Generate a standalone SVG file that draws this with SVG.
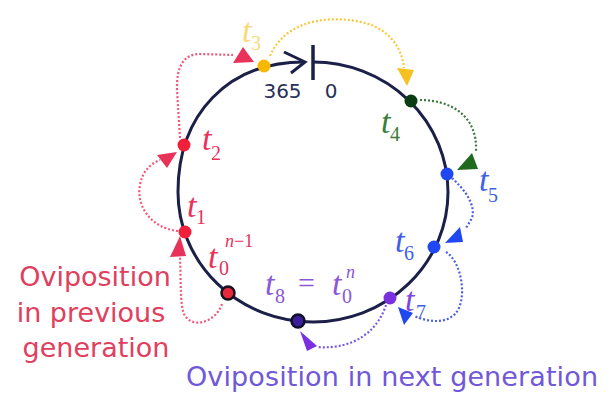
<svg xmlns="http://www.w3.org/2000/svg" width="614" height="396" viewBox="0 0 614 396">
<style>
.ring{fill:none;stroke:#1c2048;stroke-width:3}
.dot{fill:none;stroke-width:2.2;stroke-dasharray:2 2}
.tt{font-family:"Liberation Serif","Times New Roman",serif;font-style:italic;font-size:34px}
.sub{font-family:"Liberation Serif","Times New Roman",serif;font-size:20px}
.sup{font-family:"Liberation Serif","Times New Roman",serif;font-size:18px}
.num{font-family:"DejaVu Sans",Verdana,sans-serif;font-size:20px;fill:#28305a}
.lbl{font-family:"DejaVu Sans",Verdana,sans-serif;font-size:27px}
.red{fill:#e8325a}.redS{stroke:#ee5a78}
.yel{fill:#f5c020}.yelS{stroke:#f6c83a}
.grn{fill:#3a7d3a}.grnS{stroke:#3c7a3c}
.blu{fill:#3f5fe8}.bluS{stroke:#4a60e0}
.pur{fill:#7a48e0}.purS{stroke:#7a5ae0}
</style>

<g id="cycle">
  <path class="ring" d="M 313 62 A 135 130 0 0 1 448 192 A 135 130 0 0 1 313 322 A 135 130 0 0 1 178 192 C 178 114 228 62 304 62"/>
  <polyline points="284,52 305,62 291,73" fill="none" stroke="#1c2048" stroke-width="3" stroke-linejoin="miter"/>
  <line x1="313" y1="45" x2="313" y2="80" stroke="#1c2048" stroke-width="3.5"/>
  <text class="num" x="282.5" y="98" text-anchor="middle">365</text>
  <text class="num" x="331" y="98" text-anchor="middle">0</text>
</g>

<g id="connectors">
  <path class="dot redS" d="M 222 304 C 216 322 192 330 184 314 C 180 305 181 280 180 257"/>
  <polygon class="red" points="180,236 186,256 170,257"/>
  <path class="dot redS" d="M 178 231 C 150 228 136 205 140 185 C 142 172 150 164 160 160"/>
  <polygon class="red" points="177,152 167,168 157,155"/>
  <path class="dot redS" d="M 180 138 L 177 90 Q 176 54 200 54 L 233 55"/>
  <polygon class="red" points="233,63 243,47 254,62"/>
  <path class="dot yelS" d="M 270 56 C 285 20 330 14 365 23 C 390 30 402 48 404 68"/>
  <polygon class="yel" points="397,68 414,70 407,86"/>
  <path class="dot grnS" d="M 420 100 C 450 100 478 115 476 152"/>
  <polygon fill="#1f6a1f" points="472,153 478,169 457,170"/>
  <path class="dot bluS" d="M 452 178 C 465 190 476 205 472 218 L 466 228"/>
  <polygon fill="#1f48f0" points="460,227 463,242 445,243"/>
  <path class="dot bluS" d="M 446 252 C 462 262 468 300 455 314 C 445 324 428 322 414 316"/>
  <polygon fill="#1f48f0" points="398,307 413,313 404,325"/>
  <path class="dot purS" d="M 386 305 C 378 330 355 350 317 347"/>
  <polygon fill="#7a30e0" points="300,331 317,346 307,351"/>
</g>

<g id="t0prev">
  <circle cx="228" cy="293" r="6.5" fill="#e8283c" stroke="#1a1020" stroke-width="2.5"/>
  <text class="tt red" x="208" y="268">t</text>
  <text class="sub red" x="219" y="275">0</text>
  <text class="sup red" x="225" y="247"><tspan font-style="italic">n</tspan>−1</text>
</g>
<g id="t1">
  <circle cx="185" cy="232" r="6.5" fill="#f0203a"/>
  <text class="tt red" x="187" y="217">t</text>
  <text class="sub red" x="196" y="224">1</text>
</g>
<g id="t2">
  <circle cx="184" cy="145" r="6.5" fill="#f0203a"/>
  <text class="tt red" x="202" y="150">t</text>
  <text class="sub red" x="211" y="160">2</text>
</g>
<g id="t3">
  <text class="tt yel" x="242" y="42" opacity="0.6">t</text>
  <text class="sub yel" x="251" y="50" opacity="0.6">3</text>
  <circle cx="264" cy="66" r="6.5" fill="#f7b900"/>
</g>
<g id="t4">
  <circle cx="411" cy="101" r="6.5" fill="#0b3d14"/>
  <text class="tt grn" x="381" y="133">t</text>
  <text class="sub grn" x="390" y="141">4</text>
</g>
<g id="t5">
  <circle cx="447" cy="174" r="6.5" fill="#1f48f0"/>
  <text class="tt blu" x="479" y="191">t</text>
  <text class="sub blu" x="488" y="202">5</text>
</g>
<g id="t6">
  <circle cx="434" cy="247" r="6.5" fill="#1f48f0"/>
  <text class="tt blu" x="395" y="252">t</text>
  <text class="sub blu" x="404" y="260">6</text>
</g>
<g id="t7">
  <circle cx="390" cy="298" r="6.5" fill="#7a2fe0"/>
  <text class="tt pur" x="405" y="311">t</text>
  <text class="sub blu" x="416" y="319">7</text>
</g>
<g id="t8">
  <circle cx="298" cy="321" r="6.5" fill="#3a1f9a" stroke="#10102a" stroke-width="2.5"/>
  <text class="tt" fill="#8a58d8" x="265" y="295">t</text>
  <text class="sub" fill="#8a58d8" x="275" y="303">8</text>
  <text class="tt" fill="#8a58d8" x="298" y="293" style="font-style:normal;font-size:30px">=</text>
  <text class="tt" fill="#8a58d8" x="332" y="295">t</text>
  <text class="sub" fill="#8a58d8" x="342" y="303">0</text>
  <text class="sup" fill="#8a58d8" x="346" y="278" style="font-style:italic">n</text>
</g>

<g id="label-previous">
  <text class="lbl" fill="#e0405e" text-anchor="middle" x="95" y="286">Oviposition</text>
  <text class="lbl" fill="#e0405e" text-anchor="middle" x="91" y="322">in previous</text>
  <text class="lbl" fill="#e0405e" text-anchor="middle" x="96" y="357">generation</text>
</g>
<g id="label-next">
  <text class="lbl" fill="#7058d8" x="186" y="386" textLength="412">Oviposition in next generation</text>
</g>
</svg>
